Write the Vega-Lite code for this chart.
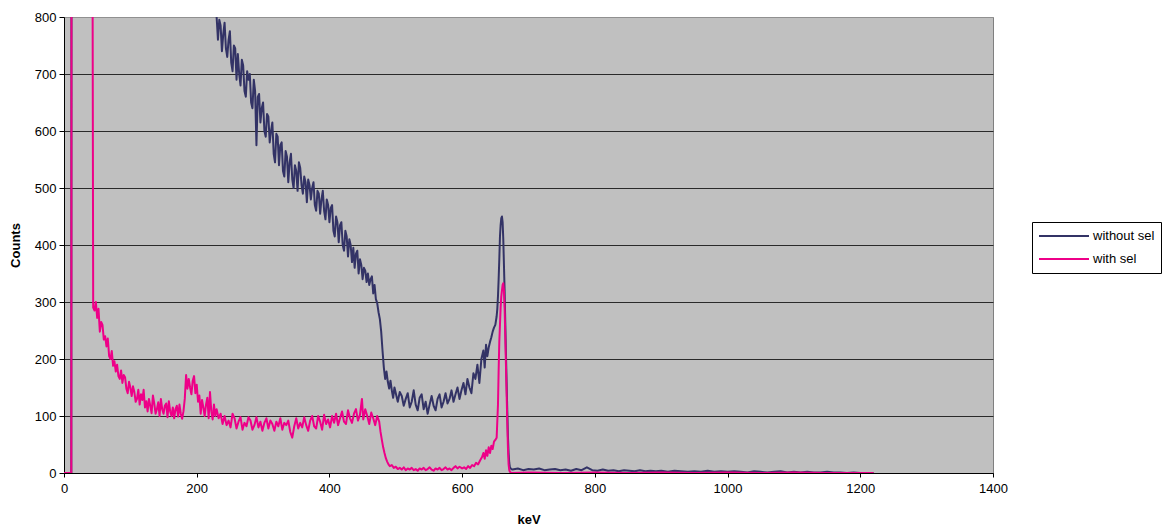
{
"$schema": "https://vega.github.io/schema/vega-lite/v6.json",
"width": 929, "height": 456,
"autosize": {"type": "none"},
"padding": {"left": 64, "top": 17, "right": 178, "bottom": 57},
"background": "white",
"datasets": {
"navy": [
{"k":0,"c":0},{"k":5,"c":0},{"k":11,"c":0},{"k":12,"c":4000},{"k":20,"c":5000},{"k":40,"c":3500},{"k":60,"c":2500},{"k":100,"c":1600},{"k":150,"c":1200},{"k":200,"c":950},{"k":220,"c":850},{"k":228,"c":810},
{"k":230,"c":800},{"k":232,"c":760},{"k":234,"c":795},{"k":236,"c":785},{"k":238,"c":740},{"k":240,"c":770},{"k":242,"c":790},{"k":244,"c":745},{"k":246,"c":730},{"k":248,"c":760},{"k":250,"c":775},{"k":252,"c":720},{"k":254,"c":705},{"k":256,"c":750},{"k":258,"c":745},{"k":260,"c":690},{"k":262,"c":735},{"k":264,"c":700},{"k":266,"c":680},{"k":268,"c":725},{"k":270,"c":715},{"k":272,"c":670},{"k":274,"c":660},{"k":276,"c":705},{"k":278,"c":690},{"k":280,"c":700},{"k":282,"c":650},{"k":284,"c":640},{"k":286,"c":690},{"k":288,"c":670},{"k":290,"c":575},{"k":292,"c":660},{"k":294,"c":665},{"k":296,"c":615},{"k":298,"c":640},{"k":300,"c":650},
{"k":302,"c":600},{"k":304,"c":590},{"k":306,"c":630},{"k":308,"c":625},{"k":310,"c":580},{"k":312,"c":600},{"k":314,"c":615},{"k":316,"c":560},{"k":318,"c":545},{"k":320,"c":595},{"k":322,"c":590},{"k":324,"c":540},{"k":326,"c":575},{"k":328,"c":580},{"k":330,"c":530},{"k":332,"c":520},{"k":334,"c":565},{"k":336,"c":555},{"k":338,"c":510},{"k":340,"c":545},{"k":342,"c":560},{"k":344,"c":515},{"k":346,"c":500},{"k":348,"c":540},{"k":350,"c":530},{"k":352,"c":495},{"k":354,"c":545},{"k":356,"c":535},{"k":358,"c":505},{"k":360,"c":490},{"k":362,"c":520},{"k":364,"c":510},{"k":366,"c":475},{"k":368,"c":515},{"k":370,"c":505},{"k":372,"c":480},{"k":374,"c":500},{"k":376,"c":510},{"k":378,"c":470},{"k":380,"c":460},{"k":382,"c":495},{"k":384,"c":490},{"k":386,"c":455},{"k":388,"c":480},{"k":390,"c":495},{"k":392,"c":460},{"k":394,"c":445},{"k":396,"c":480},{"k":398,"c":470},{"k":400,"c":440},
{"k":402,"c":465},{"k":404,"c":470},{"k":406,"c":425},{"k":408,"c":415},{"k":410,"c":450},{"k":412,"c":440},{"k":414,"c":405},{"k":416,"c":435},{"k":418,"c":440},{"k":420,"c":400},{"k":422,"c":390},{"k":424,"c":425},{"k":426,"c":415},{"k":428,"c":380},{"k":430,"c":410},{"k":432,"c":400},{"k":434,"c":370},{"k":436,"c":395},{"k":438,"c":360},{"k":440,"c":385},{"k":442,"c":390},{"k":444,"c":350},{"k":446,"c":375},{"k":448,"c":365},{"k":450,"c":340},{"k":452,"c":360},{"k":454,"c":355},{"k":456,"c":335},{"k":458,"c":350},{"k":460,"c":330},{"k":462,"c":340},{"k":464,"c":345},{"k":466,"c":315},{"k":468,"c":330},{"k":470,"c":305},{"k":472,"c":298},{"k":474,"c":282},{"k":476,"c":270},{"k":478,"c":248},{"k":480,"c":215},{"k":482,"c":185},{"k":484,"c":165},{"k":486,"c":178},{"k":488,"c":160},{"k":490,"c":148},{"k":492,"c":162},{"k":494,"c":145},{"k":496,"c":132},{"k":498,"c":150},{"k":500,"c":140},
{"k":503,"c":125},{"k":506,"c":142},{"k":509,"c":135},{"k":512,"c":118},{"k":515,"c":130},{"k":518,"c":140},{"k":521,"c":115},{"k":524,"c":125},{"k":527,"c":145},{"k":530,"c":120},{"k":533,"c":110},{"k":536,"c":132},{"k":539,"c":138},{"k":542,"c":112},{"k":545,"c":125},{"k":548,"c":104},{"k":551,"c":120},{"k":554,"c":135},{"k":557,"c":118},{"k":560,"c":110},{"k":563,"c":130},{"k":566,"c":138},{"k":569,"c":115},{"k":572,"c":125},{"k":575,"c":140},{"k":578,"c":122},{"k":581,"c":130},{"k":584,"c":145},{"k":587,"c":125},{"k":590,"c":138},{"k":593,"c":150},{"k":596,"c":130},{"k":599,"c":145},{"k":602,"c":158},{"k":605,"c":138},{"k":608,"c":165},{"k":611,"c":150},{"k":614,"c":140},{"k":617,"c":175},{"k":620,"c":165},{"k":623,"c":190},{"k":626,"c":158},{"k":629,"c":200},{"k":632,"c":215},{"k":634,"c":185},{"k":636,"c":225},{"k":638,"c":205},{"k":640,"c":220},{"k":642,"c":230},{"k":644,"c":238},{"k":646,"c":248},{"k":648,"c":255},{"k":650,"c":260},{"k":652,"c":275},{"k":653,"c":288},{"k":654,"c":310},{"k":655,"c":340},{"k":656,"c":375},{"k":657,"c":415},{"k":658,"c":435},{"k":659,"c":447},{"k":660,"c":450},{"k":661,"c":440},{"k":662,"c":410},{"k":663,"c":365},{"k":664,"c":320},{"k":665,"c":265},{"k":666,"c":210},{"k":667,"c":160},{"k":668,"c":110},{"k":669,"c":65},{"k":670,"c":35},{"k":671,"c":18},{"k":672,"c":10},{"k":674,"c":7},
{"k":676,"c":6},{"k":684,"c":8},{"k":692,"c":5},{"k":700,"c":7},{"k":708,"c":6},{"k":716,"c":8},{"k":724,"c":5},{"k":732,"c":6},{"k":740,"c":7},{"k":748,"c":5},{"k":756,"c":6},{"k":764,"c":4},{"k":772,"c":7},{"k":780,"c":5},{"k":788,"c":10},{"k":796,"c":5},{"k":804,"c":4},{"k":812,"c":6},{"k":820,"c":4},{"k":828,"c":5},{"k":836,"c":3},{"k":844,"c":5},{"k":852,"c":4},{"k":860,"c":3},{"k":868,"c":5},{"k":876,"c":3},{"k":884,"c":4},{"k":892,"c":3},{"k":900,"c":4},{"k":910,"c":2},{"k":920,"c":4},{"k":930,"c":3},{"k":940,"c":2},{"k":950,"c":3},{"k":960,"c":2},{"k":970,"c":4},{"k":980,"c":2},{"k":990,"c":3},{"k":1000,"c":2},{"k":1010,"c":3},{"k":1020,"c":2},{"k":1030,"c":1},{"k":1040,"c":3},{"k":1050,"c":2},{"k":1060,"c":1},{"k":1070,"c":2},{"k":1080,"c":3},{"k":1090,"c":1},{"k":1100,"c":2},{"k":1110,"c":1},{"k":1120,"c":2},{"k":1130,"c":1},{"k":1140,"c":1},{"k":1150,"c":2},{"k":1160,"c":1},{"k":1170,"c":1},{"k":1180,"c":0},{"k":1190,"c":1},{"k":1200,"c":0},{"k":1210,"c":0},{"k":1220,"c":0}
],
"pink": [
{"k":0,"c":0},{"k":3,"c":0},{"k":6,"c":0},{"k":9,"c":0},{"k":11,"c":0},{"k":12,"c":3000},{"k":20,"c":4000},{"k":30,"c":3000},{"k":40,"c":1800},{"k":42,"c":1500},
{"k":44,"c":290},{"k":46,"c":285},{"k":48,"c":300},{"k":50,"c":272},{"k":52,"c":288},{"k":54,"c":248},{"k":56,"c":265},{"k":58,"c":260},{"k":60,"c":234},{"k":62,"c":240},{"k":64,"c":222},{"k":66,"c":236},{"k":68,"c":205},{"k":70,"c":200},{"k":72,"c":214},{"k":74,"c":188},{"k":76,"c":196},{"k":78,"c":178},{"k":80,"c":190},{"k":82,"c":170},{"k":84,"c":165},{"k":86,"c":180},{"k":88,"c":158},{"k":90,"c":172},{"k":92,"c":168},{"k":94,"c":148},{"k":96,"c":140},{"k":98,"c":160},{"k":100,"c":150},{"k":102,"c":135},{"k":104,"c":152},{"k":106,"c":142},{"k":108,"c":125},{"k":110,"c":130},{"k":112,"c":146},{"k":114,"c":120},{"k":116,"c":138},{"k":118,"c":128},{"k":120,"c":146},{"k":122,"c":115},{"k":124,"c":126},{"k":126,"c":108},{"k":128,"c":130},{"k":130,"c":118},{"k":132,"c":105},{"k":134,"c":136},{"k":136,"c":122},{"k":138,"c":104},{"k":140,"c":112},{"k":142,"c":124},{"k":144,"c":100},{"k":146,"c":130},{"k":148,"c":112},{"k":150,"c":104},{"k":152,"c":118},{"k":154,"c":122},{"k":156,"c":98},{"k":158,"c":126},{"k":160,"c":108},{"k":162,"c":100},{"k":164,"c":115},{"k":166,"c":96},{"k":168,"c":112},{"k":170,"c":118},{"k":172,"c":99},{"k":174,"c":120},{"k":176,"c":104},{"k":178,"c":95},{"k":180,"c":108},{"k":182,"c":130},{"k":184,"c":172},{"k":186,"c":148},{"k":188,"c":165},{"k":190,"c":150},{"k":192,"c":138},{"k":194,"c":162},{"k":196,"c":170},{"k":198,"c":140},{"k":200,"c":155},{"k":202,"c":125},{"k":204,"c":136},{"k":206,"c":104},{"k":208,"c":128},{"k":210,"c":115},{"k":212,"c":100},{"k":214,"c":120},{"k":216,"c":132},{"k":218,"c":96},{"k":220,"c":142},{"k":222,"c":108},{"k":224,"c":94},{"k":226,"c":120},{"k":228,"c":100},
{"k":230,"c":112},{"k":233,"c":96},{"k":236,"c":104},{"k":239,"c":86},{"k":242,"c":100},{"k":245,"c":84},{"k":248,"c":92},{"k":251,"c":80},{"k":254,"c":104},{"k":257,"c":96},{"k":260,"c":78},{"k":263,"c":90},{"k":266,"c":98},{"k":269,"c":76},{"k":272,"c":88},{"k":275,"c":82},{"k":278,"c":98},{"k":281,"c":92},{"k":284,"c":76},{"k":287,"c":84},{"k":290,"c":98},{"k":293,"c":80},{"k":296,"c":90},{"k":299,"c":74},{"k":302,"c":88},{"k":305,"c":96},{"k":308,"c":78},{"k":311,"c":92},{"k":314,"c":86},{"k":317,"c":74},{"k":320,"c":90},{"k":323,"c":82},{"k":326,"c":96},{"k":329,"c":76},{"k":332,"c":88},{"k":335,"c":84},{"k":338,"c":92},{"k":341,"c":72},{"k":344,"c":62},{"k":347,"c":82},{"k":350,"c":96},{"k":353,"c":78},{"k":356,"c":88},{"k":359,"c":80},{"k":362,"c":98},{"k":365,"c":84},{"k":368,"c":74},{"k":371,"c":92},{"k":374,"c":100},{"k":377,"c":82},{"k":380,"c":78},{"k":383,"c":100},{"k":386,"c":90},{"k":389,"c":76},{"k":392,"c":102},{"k":395,"c":86},{"k":398,"c":94},{"k":401,"c":80},{"k":404,"c":100},{"k":407,"c":88},{"k":410,"c":104},{"k":413,"c":84},{"k":416,"c":96},{"k":419,"c":108},{"k":422,"c":90},{"k":425,"c":86},{"k":428,"c":110},{"k":431,"c":96},{"k":434,"c":88},{"k":437,"c":104},{"k":440,"c":112},{"k":443,"c":92},{"k":446,"c":102},{"k":449,"c":130},{"k":451,"c":94},{"k":454,"c":112},{"k":457,"c":100},{"k":460,"c":86},{"k":463,"c":106},{"k":466,"c":96},{"k":469,"c":84},{"k":472,"c":100},{"k":475,"c":90},{"k":477,"c":72},{"k":479,"c":58},{"k":481,"c":45},{"k":483,"c":35},{"k":485,"c":26},{"k":487,"c":20},{"k":489,"c":15},{"k":491,"c":12},{"k":494,"c":14},{"k":497,"c":9},
{"k":500,"c":11},{"k":503,"c":7},{"k":506,"c":9},{"k":509,"c":6},{"k":512,"c":10},{"k":515,"c":5},{"k":518,"c":8},{"k":521,"c":6},{"k":524,"c":9},{"k":527,"c":5},{"k":530,"c":7},{"k":533,"c":4},{"k":536,"c":8},{"k":539,"c":6},{"k":542,"c":9},{"k":545,"c":5},{"k":548,"c":7},{"k":551,"c":10},{"k":554,"c":6},{"k":557,"c":4},{"k":560,"c":8},{"k":563,"c":6},{"k":566,"c":9},{"k":569,"c":5},{"k":572,"c":7},{"k":575,"c":10},{"k":578,"c":6},{"k":581,"c":8},{"k":584,"c":5},{"k":587,"c":9},{"k":590,"c":12},{"k":593,"c":8},{"k":596,"c":11},{"k":600,"c":8},{"k":603,"c":10},{"k":606,"c":7},{"k":609,"c":12},{"k":612,"c":9},{"k":615,"c":14},{"k":618,"c":12},{"k":621,"c":18},{"k":624,"c":15},{"k":627,"c":22},{"k":630,"c":28},{"k":632,"c":35},{"k":634,"c":25},{"k":636,"c":40},{"k":638,"c":30},{"k":640,"c":45},{"k":642,"c":35},{"k":644,"c":48},{"k":646,"c":42},{"k":648,"c":55},{"k":650,"c":58},{"k":652,"c":62},{"k":654,"c":120},{"k":655,"c":180},{"k":656,"c":230},{"k":657,"c":260},{"k":658,"c":290},{"k":659,"c":310},{"k":660,"c":320},{"k":661,"c":330},{"k":662,"c":333},{"k":663,"c":320},{"k":664,"c":290},{"k":665,"c":240},{"k":666,"c":190},{"k":667,"c":140},{"k":668,"c":90},{"k":669,"c":45},{"k":670,"c":15},{"k":671,"c":5},{"k":672,"c":2},{"k":674,"c":0},
{"k":700,"c":1},{"k":750,"c":0},{"k":800,"c":1},{"k":850,"c":0},{"k":900,"c":1},{"k":950,"c":0},{"k":1000,"c":1},{"k":1050,"c":0},{"k":1100,"c":1},{"k":1150,"c":0},{"k":1200,"c":0},{"k":1220,"c":0}
]
},
"encoding": {
"x": {"field": "k", "type": "quantitative", "title": "keV",
  "scale": {"domain": [0, 1400], "nice": false, "zero": false},
  "axis": {"values": [0,200,400,600,800,1000,1200,1400], "format": "d", "labelFlush": false, "grid": false, "tickSize": 4, "labelPadding": 5, "titlePadding": 18}},
"y": {"field": "c", "type": "quantitative", "title": "Counts",
  "scale": {"domain": [0, 800], "nice": false},
  "axis": {"values": [0,100,200,300,400,500,600,700,800], "format": "d", "labelFlush": false, "grid": true, "tickSize": 5, "labelPadding": 3, "titlePadding": 12,
    "gridColor": {"condition": {"test": "datum.value == 800", "value": "#909090"}, "value": "#2a2a2a"}}}
},
"layer": [
{"data": {"name": "navy"}, "mark": {"type": "line", "clip": true, "strokeWidth": 2, "strokeJoin": "round"},
 "encoding": {"color": {"datum": "without sel", "type": "nominal",
   "scale": {"domain": ["without sel", "with sel"], "range": ["#333366", "#EE0088"]},
   "legend": {"orient": "none", "legendX": 968, "legendY": 205, "title": null, "symbolType": "stroke", "symbolSize": 2500, "symbolStrokeWidth": 2, "clipHeight": 16,
     "labelFontSize": 13, "labelColor": "black", "labelFont": "Liberation Sans", "labelOffset": 3, "strokeColor": "black", "fillColor": "white", "padding": 6, "rowPadding": 7}}}},
{"data": {"name": "pink"}, "mark": {"type": "line", "clip": true, "strokeWidth": 2, "strokeJoin": "round"},
 "encoding": {"color": {"datum": "with sel", "type": "nominal"}}}
],
"config": {
"font": "Liberation Sans",
"view": {"fill": "#C0C0C0", "stroke": "#808080", "strokeWidth": 1},
"axis": {"domainColor": "black", "domainWidth": 1, "tickColor": "black", "tickWidth": 1, "labelFontSize": 13, "labelColor": "black", "labelFont": "Liberation Sans",
  "titleFont": "Liberation Sans", "titleFontSize": 13, "titleFontWeight": "bold", "titleColor": "black", "gridWidth": 1}
}
}
